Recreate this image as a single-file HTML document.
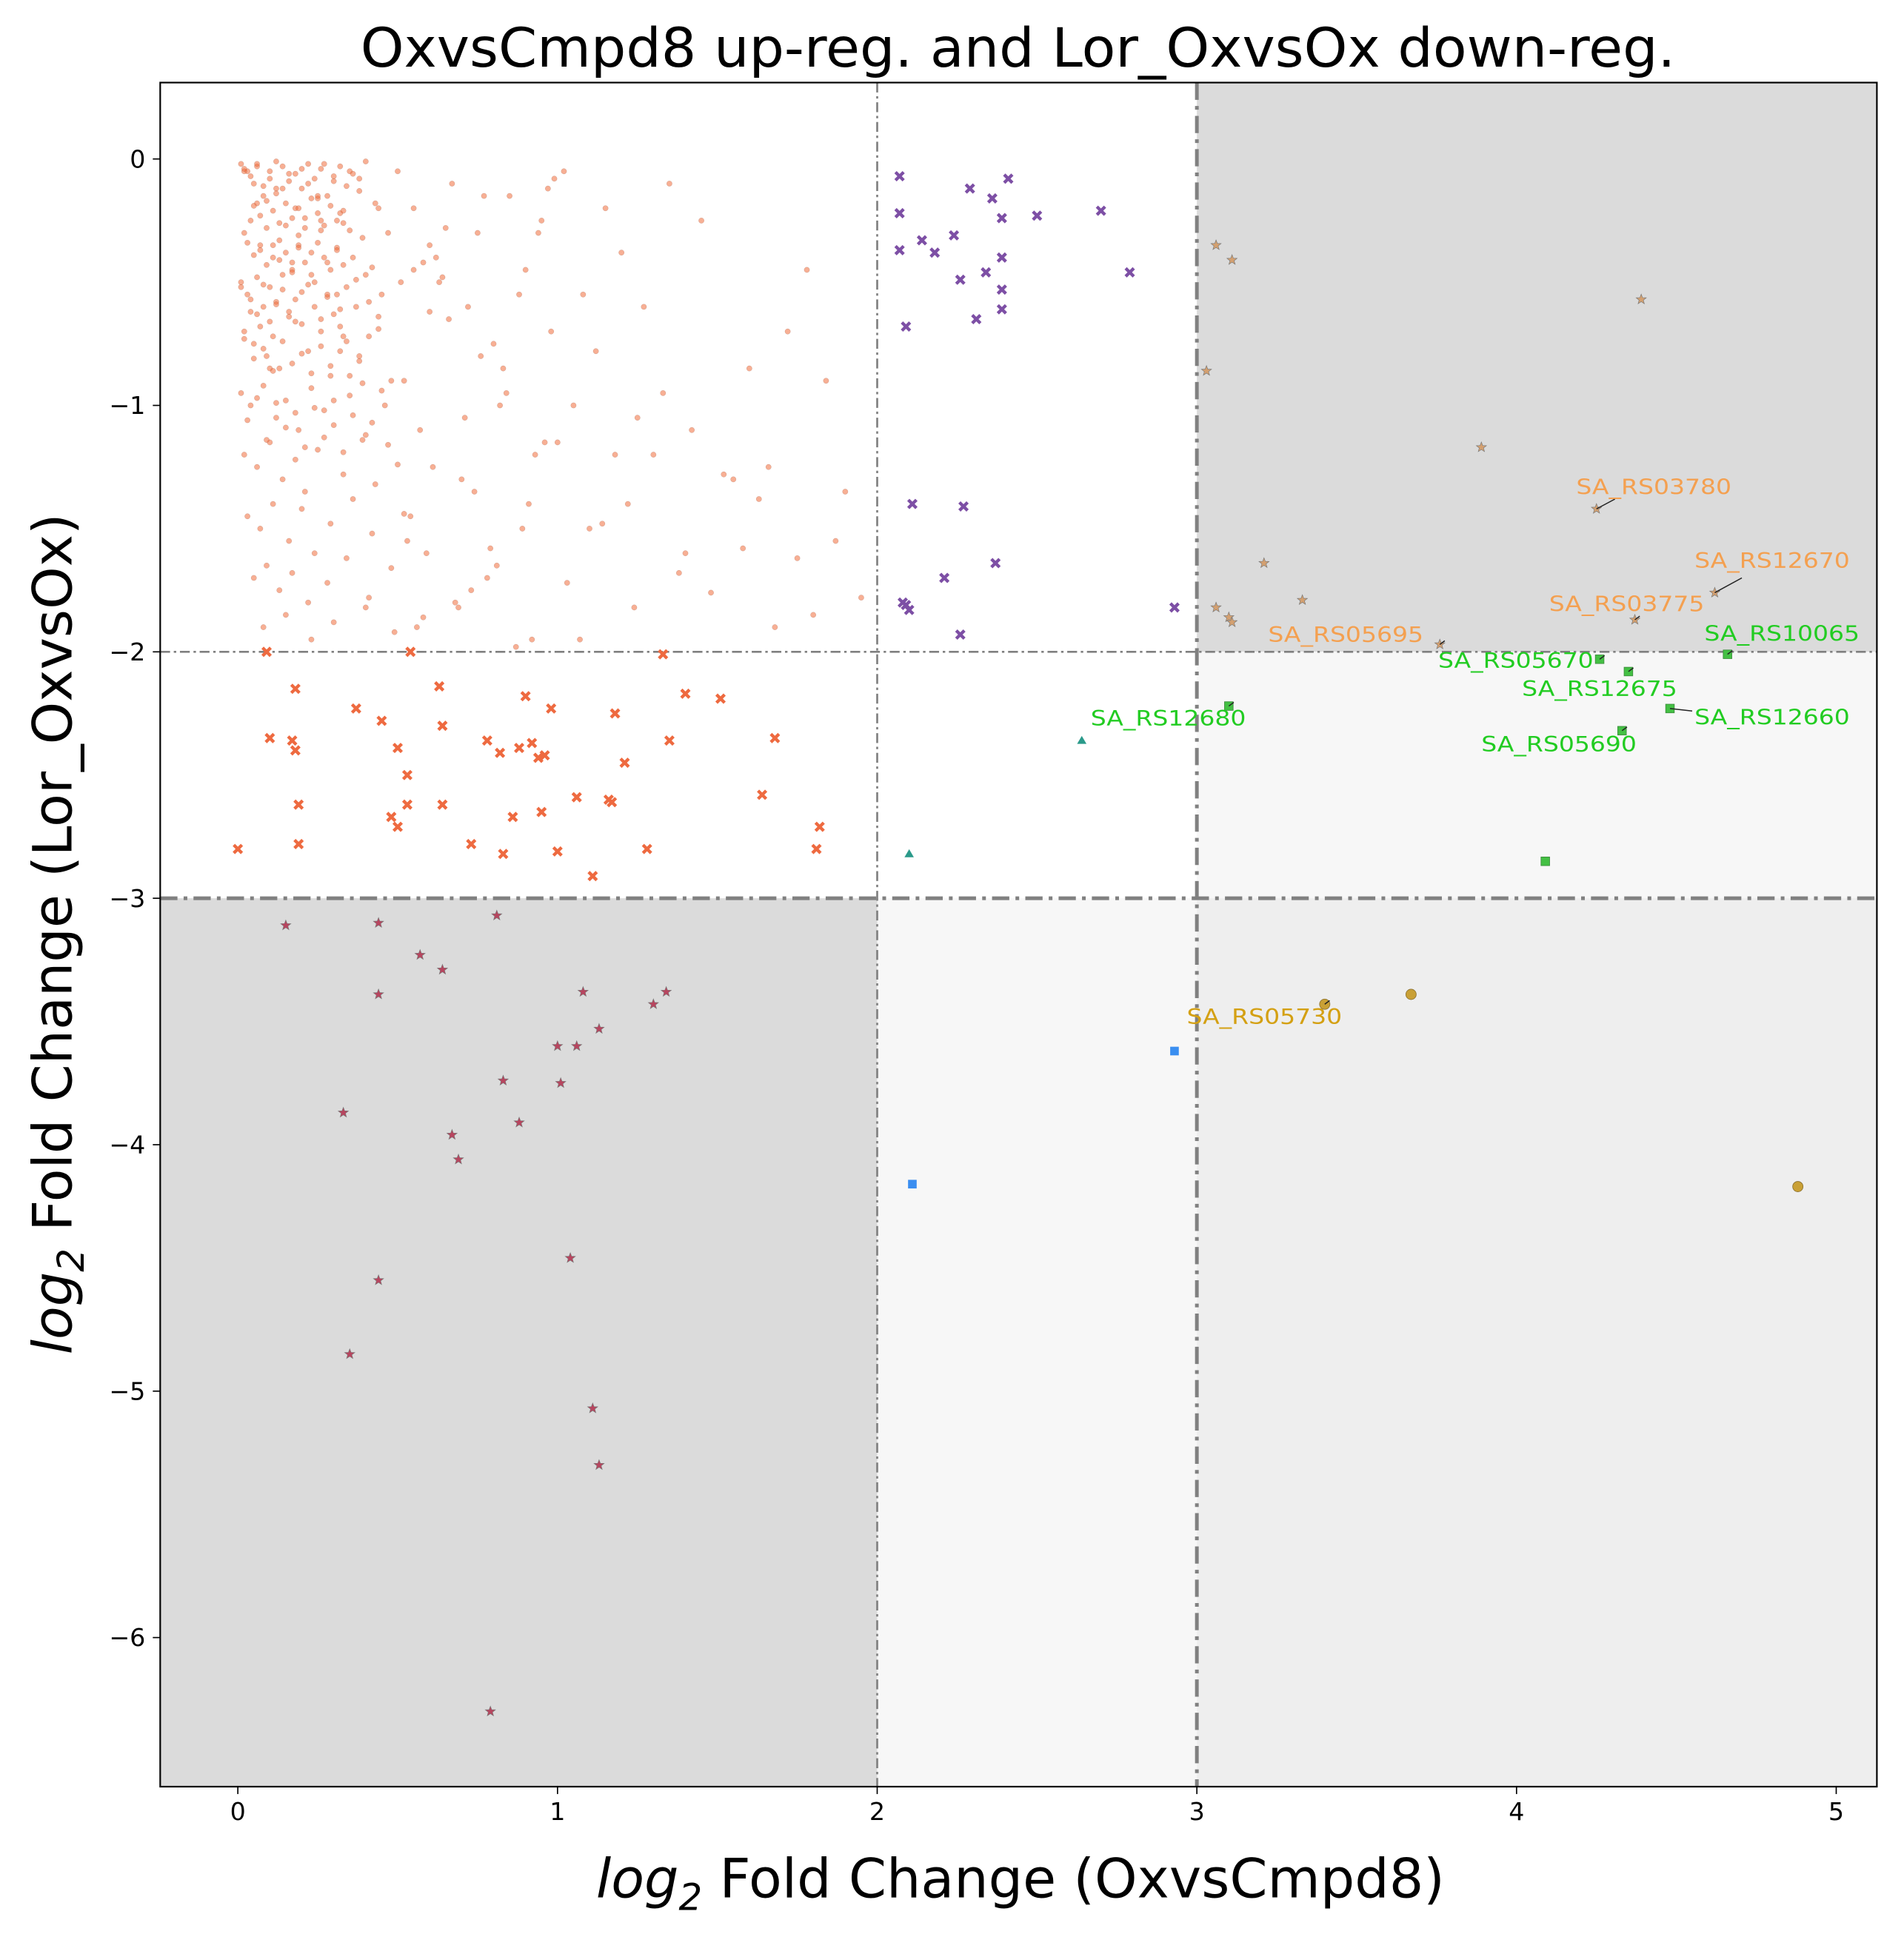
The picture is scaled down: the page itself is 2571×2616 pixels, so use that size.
<!DOCTYPE html>
<html><head><meta charset="utf-8"><style>
html,body{margin:0;padding:0;background:#fff}
svg{display:block}
text{font-family:"DejaVu Sans","Liberation Sans",sans-serif}
</style></head><body>
<svg id="chart" width="2571" height="2616" viewBox="0 0 1545 1572" xmlns="http://www.w3.org/2000/svg">
<g id="bg"></g>
<g id="marks"></g>
<g id="axes"></g>
<text x="826" y="54" font-size="44" text-anchor="middle" textLength="1067" lengthAdjust="spacingAndGlyphs">OxvsCmpd8 up-reg. and Lor_OxvsOx down-reg.</text>
<text x="828" y="1540" font-size="44" text-anchor="middle"><tspan font-style="italic">log</tspan><tspan font-size="30" dy="10" font-style="italic">2</tspan><tspan dy="-10"> Fold Change (OxvsCmpd8)</tspan></text>
<text transform="translate(58,758) rotate(-90)" font-size="44" text-anchor="middle"><tspan font-style="italic">log</tspan><tspan font-size="30" dy="10" font-style="italic">2</tspan><tspan dy="-10"> Fold Change (Lor_OxvsOx)</tspan></text>
</svg>
<script>
const xTicks=[0,1,2,3,4,5];
const yTicks=[0,-1,-2,-3,-4,-5,-6];
const cloudX=[
0.01,0.03,0.05,0.06,0.08,0.10,0.12,0.14,0.16,0.18,
0.20,0.22,0.25,0.27,0.30,0.32,0.35,0.38,0.40,0.43,
0.02,0.04,0.07,0.09,0.11,0.13,0.15,0.17,0.19,0.21,
0.23,0.26,0.28,0.31,0.33,0.36,0.39,0.42,0.01,0.03,
0.06,0.08,0.10,0.12,0.14,0.16,0.20,0.24,0.28,0.32,
0.37,0.41,0.45,0.02,0.05,0.07,0.09,0.11,0.13,0.18,
0.22,0.26,0.29,0.34,0.38,0.44,0.48,0.01,0.04,0.08,
0.12,0.15,0.19,0.23,0.27,0.30,0.35,0.40,0.46,0.02,
0.06,0.10,0.14,0.18,0.21,0.25,0.33,0.39,0.43,0.50,
0.03,0.07,0.11,0.16,0.20,0.24,0.29,0.36,0.42,0.52,
0.05,0.09,0.13,0.17,0.22,0.28,0.34,0.41,0.48,0.02,
0.06,0.12,0.19,0.26,0.31,0.38,0.47,0.55,0.04,0.10,
0.17,0.25,0.33,0.44,0.51,0.08,0.15,0.23,0.30,0.40,
0.49,0.58,0.50,0.55,0.60,0.63,0.67,0.72,0.75,0.80,
0.85,0.90,0.95,0.52,0.57,0.62,0.66,0.70,0.76,0.82,
0.88,0.93,0.98,0.54,0.59,0.65,0.71,0.78,0.84,0.91,
0.97,0.53,0.61,0.68,0.74,0.83,0.89,0.96,0.56,0.64,
0.73,0.81,0.92,0.60,0.69,0.79,0.87,0.99,0.58,0.77,
0.94,1.02,1.08,1.15,1.20,1.27,1.35,1.45,1.60,1.72,
1.84,1.05,1.12,1.18,1.25,1.33,1.42,1.55,1.66,1.78,
1.90,1.00,1.10,1.22,1.30,1.40,1.52,1.63,1.75,1.87,
1.03,1.14,1.24,1.38,1.48,1.58,1.68,1.80,1.95,1.07,
0.02,0.04,0.06,0.08,0.10,0.12,0.14,0.16,0.18,0.20,
0.22,0.24,0.26,0.28,0.30,0.32,0.34,0.36,0.05,0.07,
0.09,0.11,0.13,0.15,0.17,0.19,0.21,0.23,0.25,0.27,
0.29,0.31,0.33,0.35,0.03,0.05,0.07,0.09,0.11,0.13,
0.15,0.17,0.19,0.21,0.23,0.25,0.27,0.29,0.31,0.33,
0.01,0.04,0.06,0.08,0.10,0.12,0.14,0.16,0.18,0.20,
0.22,0.24,0.26,0.28,0.30,0.32,0.34,0.37,0.40,0.44,
0.02,0.05,0.08,0.11,0.14,0.17,0.20,0.23,0.26,0.29,
0.32,0.35,0.38,0.41,0.03,0.06,0.09,0.12,0.15,0.18,
0.21,0.24,0.27,0.30,0.33,0.36,0.39,0.42,0.45,0.47
];
const cloudY=[
-0.02,-0.05,-0.10,-0.03,-0.15,-0.08,-0.01,-0.12,-0.06,-0.20,
-0.04,-0.10,-0.16,-0.02,-0.09,-0.22,-0.05,-0.13,-0.01,-0.18,
-0.30,-0.25,-0.35,-0.28,-0.40,-0.33,-0.27,-0.45,-0.31,-0.24,
-0.38,-0.29,-0.42,-0.36,-0.26,-0.40,-0.32,-0.44,-0.50,-0.55,
-0.48,-0.60,-0.52,-0.58,-0.47,-0.62,-0.54,-0.50,-0.56,-0.61,
-0.49,-0.58,-0.55,-0.70,-0.75,-0.68,-0.80,-0.72,-0.85,-0.66,
-0.78,-0.70,-0.88,-0.74,-0.82,-0.69,-0.90,-0.95,-1.00,-0.92,
-1.05,-0.98,-1.10,-0.93,-1.02,-1.08,-0.96,-1.12,-1.00,-1.20,
-1.25,-1.15,-1.30,-1.22,-1.35,-1.18,-1.28,-1.14,-1.32,-1.24,
-1.45,-1.50,-1.40,-1.55,-1.42,-1.60,-1.48,-1.38,-1.52,-1.44,
-1.70,-1.65,-1.75,-1.68,-1.80,-1.72,-1.62,-1.78,-1.66,-0.05,
-0.18,-0.12,-0.35,-0.25,-0.55,-0.08,-0.30,-0.45,-0.62,-0.85,
-0.42,-0.15,-0.72,-0.20,-0.50,-1.90,-1.85,-1.95,-1.88,-1.82,
-1.92,-1.86,-0.05,-0.20,-0.35,-0.50,-0.10,-0.60,-0.30,-0.75,
-0.15,-0.45,-0.25,-0.90,-1.10,-0.40,-0.65,-1.30,-0.80,-1.00,
-0.55,-1.20,-0.70,-1.45,-1.60,-0.28,-1.05,-1.70,-0.95,-1.40,
-0.12,-1.55,-1.25,-1.80,-1.35,-0.85,-1.50,-1.15,-1.90,-0.48,
-1.75,-1.65,-1.95,-0.62,-1.82,-1.58,-1.98,-0.08,-0.42,-0.15,
-0.30,-0.05,-0.55,-0.20,-0.38,-0.60,-0.10,-0.25,-0.85,-0.70,
-0.90,-1.00,-0.78,-1.20,-1.05,-0.95,-1.10,-1.30,-1.25,-0.45,
-1.35,-1.15,-1.50,-1.40,-1.20,-1.60,-1.28,-1.38,-1.62,-1.55,
-1.72,-1.48,-1.82,-1.68,-1.76,-1.58,-1.90,-1.85,-1.78,-1.95,
-0.04,-0.07,-0.02,-0.11,-0.05,-0.14,-0.03,-0.09,-0.06,-0.12,
-0.02,-0.08,-0.04,-0.15,-0.07,-0.03,-0.11,-0.06,-0.19,-0.23,
-0.17,-0.21,-0.26,-0.18,-0.24,-0.20,-0.28,-0.16,-0.22,-0.27,
-0.19,-0.25,-0.21,-0.29,-0.34,-0.39,-0.37,-0.43,-0.35,-0.41,
-0.38,-0.46,-0.36,-0.42,-0.47,-0.34,-0.40,-0.45,-0.37,-0.43,
-0.52,-0.57,-0.63,-0.51,-0.66,-0.59,-0.53,-0.64,-0.57,-0.67,
-0.51,-0.60,-0.65,-0.55,-0.63,-0.68,-0.52,-0.60,-0.47,-0.64,
-0.73,-0.81,-0.77,-0.86,-0.74,-0.83,-0.79,-0.87,-0.76,-0.84,
-0.78,-0.88,-0.80,-0.72,-1.06,-0.97,-1.14,-0.99,-1.09,-1.03,
-1.17,-1.01,-1.13,-0.98,-1.19,-1.04,-0.91,-1.07,-0.94,-1.16
];
const purpleX=[2.07,2.07,2.07,2.14,2.18,2.24,2.26,2.29,2.31,2.34,2.36,2.39,2.39,2.39,2.41,2.39,2.5,2.7,2.79,2.09,2.11,2.27,2.21,2.37,2.08,2.09,2.1,2.26,2.93];
const purpleY=[-0.07,-0.22,-0.37,-0.33,-0.38,-0.31,-0.49,-0.12,-0.65,-0.46,-0.16,-0.53,-0.4,-0.24,-0.08,-0.61,-0.23,-0.21,-0.46,-0.68,-1.4,-1.41,-1.7,-1.64,-1.8,-1.81,-1.83,-1.93,-1.82];
const orangeX=[0,0.09,0.1,0.17,0.18,0.18,0.19,0.19,0.37,0.45,0.5,0.53,0.5,0.48,0.53,0.54,0.63,0.64,0.64,0.73,0.78,0.82,0.83,0.86,0.88,0.9,0.92,0.94,0.96,0.95,0.98,1.0,1.06,1.11,1.16,1.17,1.18,1.21,1.28,1.33,1.35,1.4,1.51,1.64,1.68,1.82,1.81];
const orangeY=[-2.8,-2.0,-2.35,-2.36,-2.15,-2.4,-2.62,-2.78,-2.23,-2.28,-2.39,-2.5,-2.71,-2.67,-2.62,-2.0,-2.14,-2.3,-2.62,-2.78,-2.36,-2.41,-2.82,-2.67,-2.39,-2.18,-2.37,-2.43,-2.42,-2.65,-2.23,-2.81,-2.59,-2.91,-2.6,-2.61,-2.25,-2.45,-2.8,-2.01,-2.36,-2.17,-2.19,-2.58,-2.35,-2.71,-2.8];
const redX=[0.15,0.44,0.44,0.57,0.64,0.81,0.33,0.67,0.69,0.83,0.88,1.0,1.01,1.06,1.08,1.13,1.3,1.34,0.44,0.35,1.04,1.11,1.13,0.79];
const redY=[-3.11,-3.1,-3.39,-3.23,-3.29,-3.07,-3.87,-3.96,-4.06,-3.74,-3.91,-3.6,-3.75,-3.6,-3.38,-3.53,-3.43,-3.38,-4.55,-4.85,-4.46,-5.07,-5.3,-6.3];
const tanX=[3.06,3.11,4.39,3.03,3.89,4.25,3.21,3.33,3.06,3.1,3.11,4.37,4.62,3.76];
const tanY=[-0.35,-0.41,-0.57,-0.86,-1.17,-1.42,-1.64,-1.79,-1.82,-1.86,-1.88,-1.87,-1.76,-1.97];
const greenX=[3.1,4.26,4.35,4.48,4.33,4.66,4.09];
const greenY=[-2.22,-2.03,-2.08,-2.23,-2.32,-2.01,-2.85];
const tealX=[2.64,2.1];
const tealY=[-2.36,-2.82];
const blueX=[2.93,2.11];
const blueY=[-3.62,-4.16];
const goldX=[3.4,3.67,4.88];
const goldY=[-3.43,-3.39,-4.17];
const labelNames=["SA_RS03780","SA_RS12670","SA_RS03775","SA_RS05695","SA_RS10065","SA_RS05670","SA_RS12675","SA_RS12680","SA_RS12660","SA_RS05690","SA_RS05730"];
const labelX=[4.25,4.62,4.37,3.76,4.66,4.26,4.35,3.1,4.48,4.33,3.4];
const labelY=[-1.42,-1.76,-1.87,-1.97,-2.01,-2.03,-2.08,-2.22,-2.23,-2.32,-3.43];

const NS="http://www.w3.org/2000/svg";
const L=130,R=1523,T=67,B=1450;
const sx=v=>193+v*259.4, sy=v=>129-v*200;
function el(tag,attrs,parent){const e=document.createElementNS(NS,tag);for(const k in attrs)e.setAttribute(k,attrs[k]);parent.appendChild(e);return e;}
const bg=document.getElementById('bg'),marks=document.getElementById('marks'),axes=document.getElementById('axes');
let r;
r=el('rect',{x:L,y:sy(-3),width:sx(2)-L,height:B-sy(-3),fill:'#dbdbdb'},bg);

r=el('rect',{x:sx(3),y:T,width:R-sx(3),height:sy(-2)-T,fill:'#dbdbdb'},bg);

r=el('rect',{x:sx(2),y:sy(-3),width:R-sx(2),height:B-sy(-3),fill:'#f7f7f7'},bg);

r=el('rect',{x:sx(3),y:sy(-2),width:R-sx(3),height:B-sy(-2),fill:'#f7f7f7'},bg);

r=el('rect',{x:sx(3),y:sy(-3),width:R-sx(3),height:B-sy(-3),fill:'#eeeeee'},bg);

[[sx(2),T,sx(2),B,1.6],[sx(3),T,sx(3),B,3],[L,sy(-2),R,sy(-2),1.6],[L,sy(-3),R,sy(-3),3]].forEach((a,i)=>{
 const ln=el('line',{x1:a[0],y1:a[1],x2:a[2],y2:a[3],stroke:'#808080','stroke-width':a[4],'stroke-dasharray':a[4]>2?'14,5,3,5':'8,3,2,3'},bg);
 
 
});
const n=Math.min(cloudX.length,cloudY.length);
for(let i=0;i<n;i++){
 const c=el('circle',{cx:sx(cloudX[i]),cy:sy(cloudY[i]),r:2.2,fill:'rgba(240,110,60,0.55)',stroke:'rgba(120,50,30,0.3)','stroke-width':0.3},marks);
 
 
}
function cross(x,y,col,name){
 const p=el('path',{d:`M${x-3.3},${y-3.3}L${x+3.3},${y+3.3}M${x-3.3},${y+3.3}L${x+3.3},${y-3.3}`,stroke:col,'stroke-width':2.6},marks);
 
 
}
function star(x,y,col,name){
 let d='';for(let k=0;k<10;k++){const a=-Math.PI/2+k*Math.PI/5,rr=k%2?1.8:4.3;d+=(k?'L':'M')+(x+rr*Math.cos(a)).toFixed(2)+','+(y+rr*Math.sin(a)).toFixed(2);}
 const p=el('path',{d:d+'Z',fill:col,stroke:'#777','stroke-width':0.4},marks);
 
 
}
for(let i=0;i<purpleX.length;i++)cross(sx(purpleX[i]),sy(purpleY[i]),'#7d4fa5','point-purple');
for(let i=0;i<orangeX.length;i++)cross(sx(orangeX[i]),sy(orangeY[i]),'#ee6a40','point-orange');
for(let i=0;i<redX.length;i++)star(sx(redX[i]),sy(redY[i]),'#b8455f','point-red-star');
for(let i=0;i<tanX.length;i++)star(sx(tanX[i]),sy(tanY[i]),'#d4a070','point-tan-star');
for(let i=0;i<greenX.length;i++){
 const q=el('rect',{x:sx(greenX[i])-3.5,y:sy(greenY[i])-3.5,width:7,height:7,fill:'#44c044',stroke:'#3a8a3a','stroke-width':0.5},marks);
 
 
}
for(let i=0;i<tealX.length;i++){
 const x=sx(tealX[i]),y=sy(tealY[i]);
 const q=el('path',{d:`M${x},${y-3.8}L${x+3.8},${y+2.7}L${x-3.8},${y+2.7}Z`,fill:'#2a9a8a'},marks);
 
 
}
for(let i=0;i<blueX.length;i++){
 const q=el('rect',{x:sx(blueX[i])-3.5,y:sy(blueY[i])-3.5,width:7,height:7,fill:'#3a8ef0'},marks);
 
 
}
for(let i=0;i<goldX.length;i++){
 const q=el('circle',{cx:sx(goldX[i]),cy:sy(goldY[i]),r:4.2,fill:'#c9a035',stroke:'#8a7030','stroke-width':0.5},marks);
 
 
}
const lcol=l=>l==='SA_RS05730'?'#d4a012':(['SA_RS03780','SA_RS12670','SA_RS03775','SA_RS05695'].includes(l)?'#f4a050':'#22cc22');
const txtPos=[[1279,401],[1375,461],[1257,496],[1029,521],[1383,520],[1167,542],[1235,565],[885,589],[1375,588],[1202,610],[963,831]];
for(let i=0;i<labelNames.length;i++){
 const px=sx(labelX[i]),py=sy(labelY[i]);
 const ln=el('line',{x1:px,y1:py,x2:px+(i==0?15:i==1?22:i==8?18:4),y2:py-(i==0?8:i==1?12:i==8?-2:3),stroke:'#222','stroke-width':0.9},marks);
 
 
 const t=el('text',{x:txtPos[i][0],y:txtPos[i][1],'font-size':17,fill:lcol(labelNames[i]),textLength:126,lengthAdjust:'spacingAndGlyphs'},marks);
 t.textContent=labelNames[i];
 
 
}
const fr=el('rect',{x:L,y:T,width:R-L,height:B-T,fill:'none',stroke:'#000','stroke-width':1.3},axes);

xTicks.forEach(v=>{
 const x=sx(v);
 const tk=el('line',{x1:x,y1:B,x2:x,y2:B+6,stroke:'#000','stroke-width':1},axes);
 
 const t=el('text',{x:x,y:B+27,'font-size':20,'text-anchor':'middle'},axes);
 t.textContent=String(v);
 
});
yTicks.forEach(v=>{
 const y=sy(v);
 const tk=el('line',{x1:L-6,y1:y,x2:L,y2:y,stroke:'#000','stroke-width':1},axes);
 
 const t=el('text',{x:L-12,y:y+7,'font-size':20,'text-anchor':'end'},axes);
 t.textContent=v<0?'\u2212'+(-v):String(v);
 
});
</script>
</body></html>
